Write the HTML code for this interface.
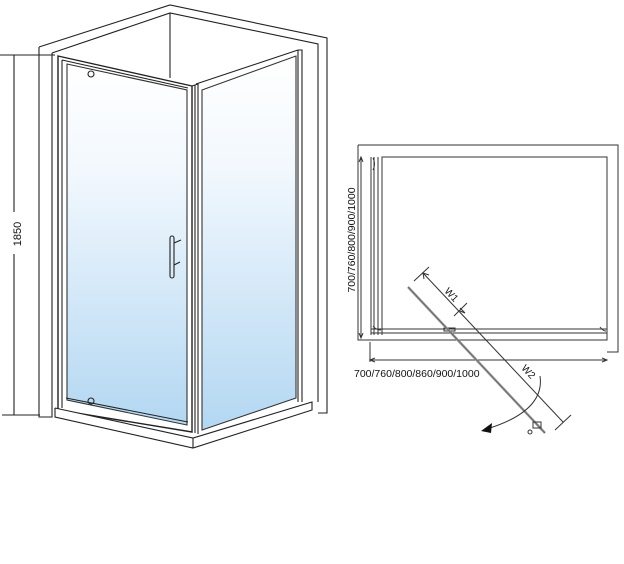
<!DOCTYPE html>
<html><head><meta charset="utf-8"><style>
html,body{margin:0;padding:0;background:#fff;width:624px;height:564px;overflow:hidden}
svg{display:block}
text{font-family:"Liberation Sans",sans-serif;fill:#111}
</style></head><body>
<svg width="624" height="564" viewBox="0 0 624 564" xmlns="http://www.w3.org/2000/svg">
<defs>
<linearGradient id="g" x1="0" y1="0" x2="0" y2="1">
<stop offset="0" stop-color="#ffffff"/><stop offset="0.3" stop-color="#f2f8fd"/><stop offset="1" stop-color="#b3d7f2"/>
</linearGradient>
</defs>
<g fill="none" stroke="#222" stroke-width="1.1">
<path d="M39,47 L170,5 L327,38 L327,413 L318,413"/>
<path d="M52,53 L170,13 L318,44 L318,402"/>
<path d="M39,47 L39,417 L52,417 L52,53"/>
<line x1="170" y1="13" x2="170" y2="78"/>
<polygon points="67,64 187,90 187,425 67,400" fill="url(#g)" stroke="#333"/>
<polygon points="202,90 296,56 296,398 202,430" fill="url(#g)" stroke="#333"/>
<path d="M58,56 L192,86 L192,432 L58,410 Z" stroke-width="1.4"/>
<path d="M62,60 L188,88" />
<line x1="62" y1="60" x2="62" y2="408"/>
<line x1="66" y1="398" x2="188" y2="422"/>
<path d="M192,86 L198,84 L198,434 M195,85 L195,433" />
<path d="M196,84 L298,50 M298,50 L302,50 L302,402 M298,50 L298,402"/>
<path d="M55,408 L55,417 L193,448 L312,410 L312,402 L193,438 L55,408" fill="#fff"/>
<line x1="193" y1="438" x2="193" y2="448"/>
<rect x="170" y="236" width="4" height="42" rx="2"/>
<path d="M174,243 L181,240 M174,265 L180,262"/>
<circle cx="91" cy="74" r="3"/>
<circle cx="91" cy="401" r="3"/>
<line x1="0" y1="55" x2="55" y2="55"/>
<line x1="14" y1="55" x2="14" y2="415"/>
<line x1="2" y1="415" x2="40" y2="415"/>
</g>
<rect x="8" y="212" width="14" height="42" fill="#fff"/>
<text transform="translate(21,234) rotate(-90)" font-size="11" text-anchor="middle">1850</text>

<g fill="none" stroke="#333" stroke-width="1">
<path d="M358,145 L618,145 L618,352 L607,352"/>
<path d="M358,145 L358,340 L607,340 L607,157 L382,157 L382,335"/>
<line x1="371" y1="157" x2="371" y2="335"/>
<line x1="374" y1="157" x2="374" y2="335"/>
<line x1="378" y1="157" x2="378" y2="335"/>
<line x1="371" y1="329" x2="607" y2="329"/>
<line x1="371" y1="333" x2="607" y2="333"/>
<line x1="361" y1="157" x2="361" y2="338"/>
<path d="M359,162 L361,157 L363,162 M359,333 L361,338 L363,333"/>
<line x1="370" y1="342" x2="370" y2="362"/>
<line x1="370" y1="360" x2="607" y2="360"/>
<path d="M375,358 L370,360 L375,362 M602,358 L607,360 L602,362"/>
<path d="M373,158 q3,6 0,12 M373,326 q3,4 8,4 M600,327 q3,4 6,4"/>
<rect x="444" y="328" width="11" height="3"/>
<line x1="408" y1="287" x2="545" y2="433" stroke="#999" stroke-width="2.5"/>
<line x1="408" y1="287" x2="545" y2="433" stroke="#555" stroke-width="0.6"/>
<line x1="423" y1="273" x2="563" y2="422"/>
<line x1="414" y1="281" x2="429" y2="267"/>
<line x1="555" y1="430" x2="571" y2="415"/>
<line x1="454" y1="316" x2="467" y2="303"/>
<path d="M424,279 L423,273 L429,275 M460,308 L465,313 L460,311"/>
<path d="M540,376 Q545,410 490,428"/>
<rect x="533" y="422" width="8" height="6"/>
<circle cx="530" cy="432" r="2"/>
</g>
<polygon points="481,431 492,423 491,433" fill="#111"/>
<text transform="translate(355,240) rotate(-90)" font-size="10.5" text-anchor="middle">700/760/800/900/1000</text>
<text x="354" y="377" font-size="10.5">700/760/800/860/900/1000</text>
<text transform="translate(449,297) rotate(47)" font-size="10" text-anchor="middle">W1</text>
<text transform="translate(526,374) rotate(47)" font-size="10" text-anchor="middle">W2</text>
</svg>
</body></html>
